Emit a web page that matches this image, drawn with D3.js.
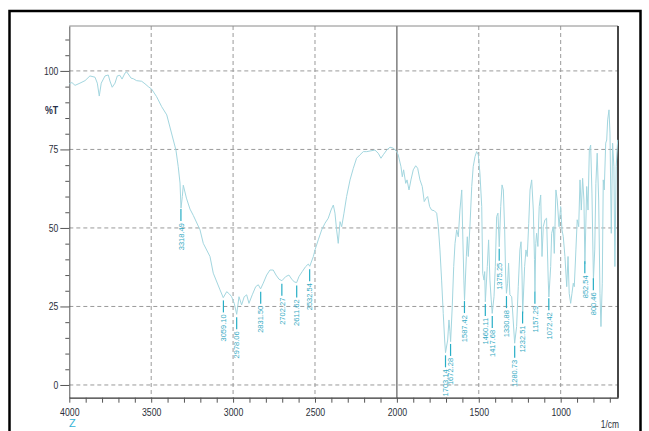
<!DOCTYPE html>
<html lang="en">
<head>
    <meta charset="UTF-8">
    <title>IR spectrum %T</title>
    <script src="https://d3js.org/d3.v7.min.js"></script>
    <style>
        body {
            margin: 0;
            background: #fff;
        }
        text {
            font-family: "Liberation Sans", Arial, sans-serif;
        }
        .tick text {
            fill: #2b2f3a;
        }
    </style>
</head>
<body>
    <div id="chart"></div>

    <script>
        const wavenumber = [
            4000, 3984, 3965, 3935, 3904, 3874, 3843, 3829, 3817, 3805, 3782, 3762, 3752, 3738, 3721, 3707,
            3691, 3678, 3660, 3650, 3636, 3623, 3609, 3589, 3558, 3538, 3518, 3497, 3467, 3436, 3405, 3365,
            3349, 3335, 3324, 3318, 3310, 3304, 3285, 3263, 3243, 3202, 3182, 3141, 3121, 3080, 3060, 3039,
            3023, 3009, 2993, 2978, 2964, 2948, 2932, 2917, 2903, 2883, 2862, 2846, 2832, 2816, 2795, 2775,
            2755, 2738, 2720, 2702, 2679, 2659, 2642, 2626, 2612, 2598, 2578, 2557, 2541, 2532, 2510, 2500,
            2480, 2459, 2439, 2419, 2402, 2388, 2378, 2368, 2358, 2347, 2337, 2323, 2307, 2286, 2266, 2246,
            2225, 2205, 2184, 2164, 2134, 2114, 2097, 2083, 2062, 2042, 2022, 2001, 1992, 1975, 1967, 1959,
            1946, 1938, 1926, 1914, 1900, 1885, 1873, 1859, 1845, 1833, 1821, 1812, 1800, 1788, 1772, 1757,
            1747, 1737, 1727, 1717, 1708, 1703, 1690, 1682, 1676, 1672, 1662, 1653, 1645, 1635, 1625, 1615,
            1604, 1597, 1591, 1587, 1576, 1570, 1564, 1554, 1543, 1534, 1523, 1513, 1503, 1493, 1482, 1476,
            1468, 1464, 1460, 1448, 1440, 1432, 1424, 1418, 1407, 1399, 1391, 1383, 1375, 1366, 1358, 1350,
            1342, 1336, 1331, 1324, 1318, 1310, 1299, 1290, 1281, 1269, 1259, 1249, 1242, 1236, 1232, 1220,
            1212, 1204, 1195, 1187, 1177, 1167, 1160, 1157, 1152, 1147, 1139, 1131, 1122, 1114, 1106, 1096,
            1086, 1076, 1072, 1061, 1055, 1045, 1039, 1029, 1021, 1010, 1000, 992, 984, 974, 963, 955,
            948, 939, 931, 923, 917, 907, 899, 890, 882, 874, 866, 858, 852, 841, 833, 825,
            817, 809, 800, 792, 785, 777, 768, 760, 754, 746, 740, 734, 725, 719, 713, 705,
            699, 691, 683, 675, 669, 661, 652, 650
        ];
        const transmittance = [
            95.9, 96.3, 95.4, 96.1, 96.9, 98.4, 98.0, 96.1, 92.0, 96.1, 98.4, 98.7, 96.8, 94.8, 96.1, 98.4,
            98.6, 97.4, 99.3, 99.7, 98.7, 97.7, 97.5, 96.9, 96.7, 95.9, 95.0, 94.2, 91.8, 88.6, 86.0, 78.0,
            74.8, 69.5, 64.3, 56.3, 60.0, 63.6, 59.5, 56.0, 54.0, 49.4, 45.1, 40.9, 35.6, 30.3, 27.8, 29.7,
            29.0, 28.1, 26.0, 22.5, 28.1, 25.5, 28.1, 28.7, 26.0, 28.7, 31.3, 31.9, 30.6, 32.4, 35.0, 36.6,
            36.6, 35.0, 33.7, 33.2, 34.5, 35.0, 33.7, 32.8, 32.6, 34.5, 36.1, 37.7, 38.5, 37.8, 40.9, 43.0,
            46.2, 49.4, 51.5, 53.1, 55.7, 57.3, 54.7, 49.4, 45.1, 52.0, 50.4, 54.7, 60.0, 65.3, 69.0, 72.2,
            73.3, 74.3, 74.3, 74.5, 74.8, 73.8, 72.2, 73.3, 74.8, 75.7, 75.4, 74.3, 73.3, 69.5, 66.3, 68.5,
            64.2, 65.3, 62.1, 65.3, 68.5, 69.8, 69.0, 65.3, 63.2, 58.4, 59.5, 60.0, 56.8, 55.7, 55.5, 54.7,
            50.4, 43.0, 33.4, 22.8, 14.0, 10.3, 14.3, 20.7, 17.0, 13.8, 24.9, 37.7, 45.1, 49.4, 47.2, 55.7,
            62.1, 46.2, 33.4, 27.0, 40.9, 47.2, 40.9, 50.4, 63.2, 69.5, 72.7, 74.3, 73.3, 67.4, 56.8, 35.6,
            33.4, 36.1, 26.5, 37.7, 46.2, 33.4, 27.1, 22.8, 28.1, 37.7, 53.6, 54.7, 44.0, 56.8, 63.7, 62.1,
            49.4, 35.0, 29.2, 32.4, 38.8, 28.7, 28.1, 20.7, 13.3, 18.6, 31.3, 43.0, 45.6, 35.0, 22.8, 37.7,
            43.0, 40.9, 51.5, 62.1, 65.3, 55.7, 40.0, 29.6, 45.0, 48.3, 44.1, 56.8, 60.5, 40.9, 50.4, 52.6,
            53.1, 33.4, 28.0, 37.7, 48.3, 50.4, 41.9, 62.1, 58.9, 50.4, 56.8, 49.4, 47.2, 40.9, 31.3, 40.9,
            29.2, 26.0, 29.2, 32.4, 31.3, 43.0, 52.6, 50.4, 65.3, 55.7, 65.8, 58.9, 38.5, 63.2, 55.7, 74.8,
            76.4, 61.1, 33.5, 43.0, 64.2, 73.8, 58.9, 29.2, 18.6, 32.4, 65.3, 62.1, 77.0, 78.0, 84.4, 87.6,
            80.2, 48.3, 77.0, 69.5, 37.7, 69.5, 78.0, 78.0
        ];

        // Peakbeschriftungen
        const peakLabels = [
            "3318.49", "3059.10", "2978.06", "2831.50", "2702.27", "2611.62", "2532.54",
            "1703.14", "1672.28", "1587.42", "1460.11", "1417.68", "1375.25", "1330.88",
            "1280.73", "1232.51", "1157.29", "1072.42", "852.54", "800.46"
        ];

        const yMajorTicks = [0, 25, 50, 75, 100];
        const yMinorTicks = [5, 10, 15, 20, 30, 35, 40, 45, 55, 60, 65, 70, 80, 85, 90, 95, 105, 110];
        const xTickLabels = [4000, 3500, 3000, 2500, 2000, 1500, 1000];
        const xMinorTicks = d3.range(4000, 650, -100);

        const width = 649;
        const height = 431;
        const margin = { top: 26, right: 31, bottom: 33.3, left: 69.3 };

        const svg = d3.select("#chart")
            .append("svg")
            .attr("width", width)
            .attr("height", height);

        const x = d3.scaleLinear()
            .domain([4000, 650])
            .range([margin.left, width - margin.right]);

        const y = d3.scaleLinear()
            .domain([-4.05, 114.3])
            .range([height - margin.bottom, margin.top]);

        const data = wavenumber.map((w, i) => ({ w: w, t: transmittance[i] }));

        // Text schmaler machen (Originalschrift ist schmal)
        function squeeze(sel, f) {
            sel.each(function() {
                const len = this.getComputedTextLength();
                if (len > 0) {
                    d3.select(this)
                        .attr("textLength", len * f)
                        .attr("lengthAdjust", "spacingAndGlyphs");
                }
            });
        }

        // Aeusserer Rahmen
        svg.append("rect")
            .attr("x", 9.5)
            .attr("y", 11)
            .attr("width", 631)
            .attr("height", 440)
            .attr("fill", "none")
            .attr("stroke", "#000")
            .attr("stroke-width", 2.5);

        // Gitter
        svg.append("g")
            .selectAll("line")
            .data(yMajorTicks)
            .join("line")
            .attr("x1", margin.left)
            .attr("x2", width - margin.right)
            .attr("y1", d => y(d))
            .attr("y2", d => y(d))
            .attr("stroke", "#9a9a9a")
            .attr("stroke-dasharray", "4,3");

        svg.append("g")
            .selectAll("line")
            .data(xTickLabels.filter(d => d !== 4000))
            .join("line")
            .attr("x1", d => x(d))
            .attr("x2", d => x(d))
            .attr("y1", margin.top)
            .attr("y2", height - margin.bottom)
            .attr("stroke", d => d === 2000 ? "#6a6a6a" : "#9a9a9a")
            .attr("stroke-width", d => d === 2000 ? 1.3 : 1)
            .attr("stroke-dasharray", d => d === 2000 ? null : "4,3");

        // Rahmen oben und rechts
        svg.append("line")
            .attr("x1", margin.left).attr("x2", width - margin.right)
            .attr("y1", margin.top).attr("y2", margin.top)
            .attr("stroke", "#8a8a8a");
        svg.append("line")
            .attr("x1", width - margin.right).attr("x2", width - margin.right)
            .attr("y1", margin.top).attr("y2", height - margin.bottom)
            .attr("stroke", "#333")
            .attr("stroke-width", 1.8);

        // Achsen
        const yAxisMinor = svg.append("g")
            .attr("transform", `translate(${margin.left},0)`)
            .call(d3.axisLeft(y).tickValues(yMinorTicks).tickSize(4).tickFormat(""));
        yAxisMinor.select(".domain").remove();
        yAxisMinor.selectAll("line").attr("stroke", "#555");

        const yAxis = svg.append("g")
            .attr("transform", `translate(${margin.left},0)`)
            .call(d3.axisLeft(y).tickValues(yMajorTicks).tickSize(9).tickSizeOuter(0).tickPadding(2));
        yAxis.select(".domain").attr("stroke", "#555");
        yAxis.selectAll("line").attr("stroke", "#555");
        yAxis.selectAll("text").attr("font-size", "11px");
        squeeze(yAxis.selectAll("text"), 0.78);

        const xAxis = svg.append("g")
            .attr("transform", `translate(0,${height - margin.bottom})`)
            .call(d3.axisBottom(x)
                .tickValues(xMinorTicks)
                .tickSize(5)
                .tickSizeOuter(0)
                .tickPadding(5)
                .tickFormat(d => xTickLabels.includes(d) ? d : ""));
        xAxis.select(".domain").attr("stroke", "#333").attr("stroke-width", 1.3);
        xAxis.selectAll("line").attr("stroke", "#555");
        xAxis.selectAll("text").attr("font-size", "11.5px");
        squeeze(xAxis.selectAll("text"), 0.76);

        // Achsentitel
        const yTitle = svg.append("text")
            .attr("x", 45)
            .attr("y", 113.5)
            .attr("font-size", "11px")
            .attr("font-weight", "bold")
            .attr("fill", "#27304a")
            .text("%T");
        squeeze(yTitle, 0.8);

        svg.append("text")
            .attr("x", x(4000) + 3)
            .attr("y", 427)
            .attr("text-anchor", "middle")
            .attr("font-size", "11px")
            .attr("fill", "#35b3d6")
            .text("Z");

        const xTitle = svg.append("text")
            .attr("x", width - margin.right + 1)
            .attr("y", 428)
            .attr("text-anchor", "end")
            .attr("font-size", "10.5px")
            .attr("fill", "#2b2f3a")
            .text("1/cm");
        squeeze(xTitle, 0.8);

        // Spektrum
        const line = d3.line()
            .x(d => x(d.w))
            .y(d => y(d.t));

        svg.append("path")
            .datum(data)
            .attr("fill", "none")
            .attr("stroke", "#a3d6df")
            .attr("stroke-width", 1)
            .attr("stroke-linejoin", "round")
            .attr("d", line);

        // Peakmarken
        const asc = data.slice().sort((a, b) => a.w - b.w);
        const bis = d3.bisector(d => d.w).left;
        function curveAt(w) {
            const i = Math.max(1, Math.min(asc.length - 1, bis(asc, w)));
            const a = asc[i - 1], b = asc[i];
            return a.t + (b.t - a.t) * (w - a.w) / (b.w - a.w);
        }

        const peaks = svg.append("g")
            .selectAll("g")
            .data(peakLabels)
            .join("g")
            .attr("transform", d => `translate(${x(+d)},${y(curveAt(+d)) + 3})`);

        peaks.append("line")
            .attr("x1", 0).attr("x2", 0)
            .attr("y1", 0).attr("y2", 12)
            .attr("stroke", "#27aec6")
            .attr("stroke-width", 1.2);

        peaks.append("text")
            .attr("transform", "translate(2.7,14) rotate(-90)")
            .attr("text-anchor", "end")
            .attr("font-size", "7.5px")
            .attr("fill", "#36abc4")
            .text(d => d);
    </script>
</body>
</html>
